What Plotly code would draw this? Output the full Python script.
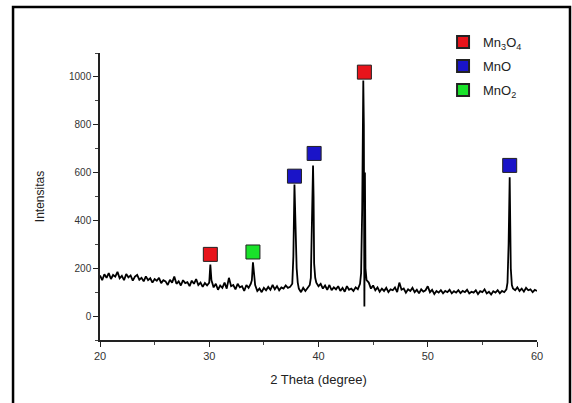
import plotly.graph_objects as go

# XRD pattern (2-theta in degrees, intensity in counts)
two_theta = [
    20.0, 20.2, 20.4, 20.6, 20.8, 21.0, 21.2, 21.4, 21.6, 21.8,
    22.0, 22.2, 22.4, 22.6, 22.8, 23.0, 23.2, 23.4, 23.6, 23.8,
    24.0, 24.2, 24.4, 24.6, 24.8, 25.0, 25.2, 25.4, 25.6, 25.8,
    26.0, 26.2, 26.4, 26.6, 26.8, 27.0, 27.2, 27.4, 27.6, 27.8,
    28.0, 28.2, 28.4, 28.6, 28.8, 29.0, 29.2, 29.4, 29.6, 29.8,
    30.0, 30.1, 30.2, 30.4, 30.6, 30.8, 31.0, 31.2, 31.4, 31.6,
    31.8, 32.0, 32.2, 32.4, 32.6, 32.8, 33.0, 33.2, 33.4, 33.6,
    33.8, 33.9, 34.0, 34.1, 34.2, 34.4, 34.6, 34.8, 35.0, 35.2,
    35.4, 35.6, 35.8, 36.0, 36.2, 36.4, 36.6, 36.8, 37.0, 37.2,
    37.4, 37.6, 37.7, 37.8, 37.85, 37.9, 38.0, 38.1, 38.2, 38.4,
    38.6, 38.8, 39.0, 39.2, 39.3, 39.4, 39.5, 39.55, 39.6, 39.7,
    39.8, 40.0, 40.2, 40.4, 40.6, 40.8, 41.0, 41.2, 41.4, 41.6,
    41.8, 42.0, 42.2, 42.4, 42.6, 42.8, 43.0, 43.2, 43.4, 43.6,
    43.8, 43.9, 44.0, 44.1, 44.15, 44.2, 44.25, 44.3, 44.4, 44.6,
    44.8, 45.0, 45.2, 45.4, 45.6, 45.8, 46.0, 46.2, 46.4, 46.6,
    46.8, 47.0, 47.2, 47.4, 47.6, 47.8, 48.0, 48.2, 48.4, 48.6,
    48.8, 49.0, 49.2, 49.4, 49.6, 49.8, 50.0, 50.2, 50.4, 50.6,
    50.8, 51.0, 51.2, 51.4, 51.6, 51.8, 52.0, 52.2, 52.4, 52.6,
    52.8, 53.0, 53.2, 53.4, 53.6, 53.8, 54.0, 54.2, 54.4, 54.6,
    54.8, 55.0, 55.2, 55.4, 55.6, 55.8, 56.0, 56.2, 56.4, 56.6,
    56.8, 57.0, 57.2, 57.3, 57.4, 57.5, 57.55, 57.6, 57.7, 57.8,
    58.0, 58.2, 58.4, 58.6, 58.8, 59.0, 59.2, 59.4, 59.6, 59.8,
    60.0,
]
intensity = [
    170, 150, 175, 160, 180, 155, 172, 165, 185, 158,
    168, 150, 176, 162, 170, 148, 165, 172, 152, 160,
    145, 166, 150, 158, 140, 155, 148, 160, 138, 150,
    145, 130, 152, 140, 165, 135, 145, 128, 150, 138,
    142, 125, 148, 135, 155, 130, 140, 122, 138, 128,
    140, 215, 150, 120, 135, 110, 128, 118, 140, 115,
    160, 125, 130, 112, 135, 120, 125, 105, 130, 118,
    135, 150, 225, 160, 130, 105, 115, 100, 118, 108,
    122, 110, 130, 112, 125, 108, 120, 115, 128, 118,
    122, 135, 250, 550, 420, 310, 200, 140, 115, 100,
    118, 105, 120, 130, 160, 350, 630, 500, 220, 160,
    140, 125, 135, 115, 128, 110, 130, 108, 120, 112,
    125, 105, 118, 102, 125, 110, 115, 105, 120, 112,
    135, 180, 450, 985, 800, 40, 600, 200, 150, 140,
    115, 128, 108, 120, 102, 115, 105, 118, 100, 112,
    108, 120, 100, 140, 110, 115, 98, 112, 105, 118,
    100, 110, 95, 112, 102, 108, 125, 100, 110, 92,
    105, 98, 108, 95, 105, 100, 110, 95, 104, 98,
    108, 96, 105, 100, 110, 95, 102, 98, 108, 92,
    104, 100, 112, 95, 102, 90, 104, 98, 108, 95,
    105, 100, 112, 140, 300, 580, 400, 200, 130, 115,
    108, 120, 105, 115, 102, 118, 108, 112, 100, 110,
    105,
]

# Phase markers placed above the identified peaks
phases = ["Mn<sub>3</sub>O<sub>4</sub>", "MnO", "MnO<sub>2</sub>"]
phase_colors = ["#e8141b", "#1a14c8", "#19e22a"]
peak_pos = {
    "Mn<sub>3</sub>O<sub>4</sub>": [30.1, 44.2],
    "MnO": [37.8, 39.6, 57.5],
    "MnO<sub>2</sub>": [34.0],
}
peak_mark = {
    "Mn<sub>3</sub>O<sub>4</sub>": [258, 1020],
    "MnO": [585, 680, 630],
    "MnO<sub>2</sub>": [268],
}

fig = go.Figure()
fig.add_trace(go.Scatter(
    x=two_theta, y=intensity, mode="lines",
    line=dict(color="black", width=1.8),
    showlegend=False, hoverinfo="skip",
))
for name, col in zip(phases, phase_colors):
    fig.add_trace(go.Scatter(
        x=peak_pos[name], y=peak_mark[name], mode="markers", name=name,
        legendgroup=name,
        marker=dict(symbol="square", size=14, color=col,
                    line=dict(color="#222", width=1)),
    ))

font_family = "Arial, Liberation Sans, sans-serif"
fig.update_layout(
    width=572, height=403,
    margin=dict(l=100, r=35, t=53, b=63),
    paper_bgcolor="white", plot_bgcolor="white",
    font=dict(family=font_family, color="#222", size=11),
    legend=dict(
        x=0.785, xanchor="left", y=1.09, yanchor="top",
        bgcolor="rgba(0,0,0,0)", font=dict(size=13, color="#222"),
        tracegroupgap=4, itemsizing="constant",
    ),
    xaxis=dict(
        range=[20, 60], dtick=10, tick0=20,
        showline=True, linecolor="#222", linewidth=1.5,
        ticks="outside", ticklen=5, tickcolor="#222", tickwidth=1,
        minor=dict(dtick=5, ticks="outside", ticklen=3, tickcolor="#444"),
        showgrid=False, zeroline=False,
        tickfont=dict(size=11, color="#333"),
        title=dict(text="2 Theta (degree)", font=dict(size=13, color="#222"), standoff=14),
    ),
    yaxis=dict(
        range=[-100, 1100], dtick=200, tick0=0,
        showline=True, linecolor="#222", linewidth=1.5,
        ticks="outside", ticklen=5, tickcolor="#222", tickwidth=1,
        minor=dict(dtick=100, ticks="outside", ticklen=3, tickcolor="#444"),
        showgrid=False, zeroline=False,
        tickfont=dict(size=10, color="#333"),
        title=dict(text="Intensitas", font=dict(size=12, color="#222"), standoff=22),
    ),
    shapes=[dict(
        type="rect", xref="paper", yref="paper",
        x0=-0.199, x1=1.0755, y0=-0.3, y1=1.16,
        line=dict(color="black", width=2.5), fillcolor="rgba(0,0,0,0)",
        layer="below",
    )],
)

fig.write_html("out.html")
